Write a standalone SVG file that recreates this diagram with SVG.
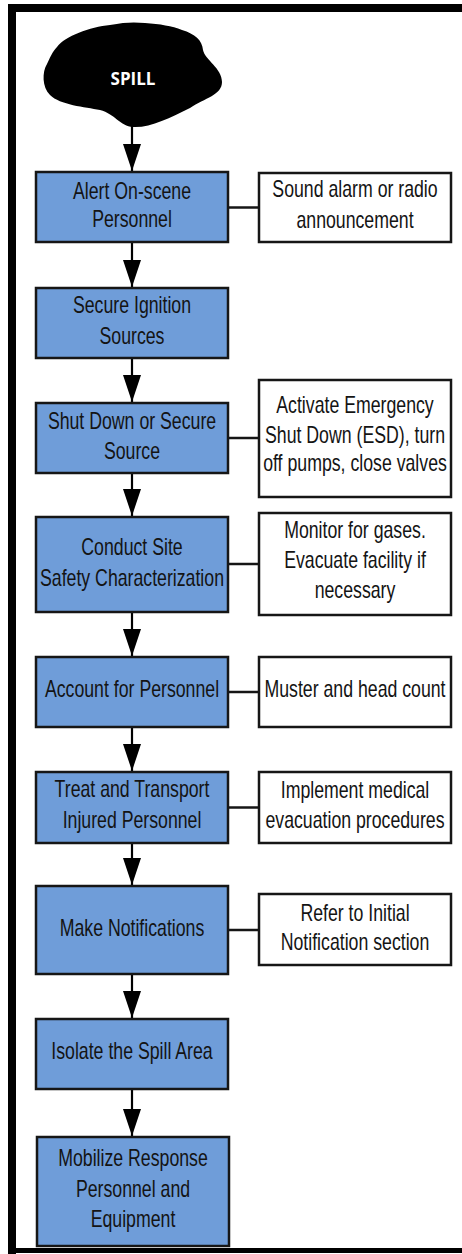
<svg xmlns="http://www.w3.org/2000/svg" width="462" height="1254" viewBox="0 0 462 1254">
  <style>
    .step { fill: #6f9dd9; stroke: #161616; stroke-width: 2.5; }
    .note { fill: #ffffff; stroke: #161616; stroke-width: 2.5; }
    .lbl { font-family: "Liberation Sans", Arial, sans-serif; font-size: 23px; fill: #141414; text-anchor: middle; }
    .flow { stroke: #000; stroke-width: 2.2; fill: none; marker-end: url(#head); }
    .tie { stroke: #161616; stroke-width: 2.5; fill: none; }
    .frame { fill: #000; }
  </style>
  <defs>
    <marker id="head" markerUnits="userSpaceOnUse" markerWidth="27" markerHeight="18" refX="27" refY="9" orient="auto">
      <path d="M0,0 L27,9 L0,18 Z" fill="#000"/>
    </marker>
  </defs>

  <rect width="462" height="1254" fill="#fff"/>

  <!-- page frame: top, left and bottom rules -->
  <g id="frame">
    <rect class="frame" x="8" y="4" width="454" height="8"/>
    <rect class="frame" x="8" y="4" width="8" height="1250"/>
    <rect class="frame" x="8" y="1248" width="454" height="5"/>
  </g>

  <!-- connectors -->
  <g id="connectors">
    <line class="flow" x1="132" y1="126" x2="132" y2="171"/>
    <line class="flow" x1="132" y1="243" x2="132" y2="287"/>
    <line class="flow" x1="132" y1="359" x2="132" y2="402"/>
    <line class="flow" x1="132" y1="474" x2="132" y2="516"/>
    <line class="flow" x1="132" y1="613" x2="132" y2="656"/>
    <line class="flow" x1="132" y1="728" x2="132" y2="771"/>
    <line class="flow" x1="132" y1="844" x2="132" y2="885"/>
    <line class="flow" x1="132" y1="975" x2="132" y2="1018"/>
    <line class="flow" x1="132" y1="1090" x2="132" y2="1136"/>

    <line class="tie" x1="229" y1="207.5" x2="259" y2="207.5"/>
    <line class="tie" x1="229" y1="438" x2="259" y2="438"/>
    <line class="tie" x1="229" y1="564" x2="259" y2="564"/>
    <line class="tie" x1="229" y1="692" x2="259" y2="692"/>
    <line class="tie" x1="229" y1="807.5" x2="259" y2="807.5"/>
    <line class="tie" x1="229" y1="930" x2="259" y2="930"/>
  </g>

  <g id="spill">
    <path d="M57,47 C65,36 90,27 110,25 C125,22 135,22 145,23 C160,24 172,26 182,30 C195,34 202,40 203,50 C205,60 222,68 222,82 C222,95 205,98 190,108 C170,118 150,128 133,127 C120,126 115,114 100,110 C85,107 60,105 50,95 C42,87 42,72 47,64 C50,58 52,52 57,47 Z" fill="#000"/>
    <text x="133" y="85" font-family="'Open Sans', 'Liberation Sans', sans-serif" font-weight="700" font-size="17" fill="#fff" text-anchor="middle">SPILL</text>
  </g>

  <g id="alert">
    <rect class="step" x="36" y="172" width="192" height="70"/>
    <text class="lbl" transform="translate(132 0) scale(0.77 1)"><tspan x="0" y="199">Alert On-scene</tspan><tspan x="0" y="227.5">Personnel</tspan></text>
  </g>
  <g id="alert-note">
    <rect class="note" x="259" y="173" width="192" height="69"/>
    <text class="lbl" transform="translate(355 0) scale(0.77 1)"><tspan x="0" y="197">Sound alarm or radio</tspan><tspan x="0" y="228">announcement</tspan></text>
  </g>

  <g id="ignition">
    <rect class="step" x="36" y="288" width="192" height="70"/>
    <text class="lbl" transform="translate(132 0) scale(0.77 1)"><tspan x="0" y="313">Secure Ignition</tspan><tspan x="0" y="344">Sources</tspan></text>
  </g>

  <g id="shutdown">
    <rect class="step" x="36" y="403" width="192" height="70"/>
    <text class="lbl" transform="translate(132 0) scale(0.77 1)"><tspan x="0" y="429">Shut Down or Secure</tspan><tspan x="0" y="459">Source</tspan></text>
  </g>
  <g id="shutdown-note">
    <rect class="note" x="259" y="380" width="192" height="117"/>
    <text class="lbl" transform="translate(355 0) scale(0.77 1)"><tspan x="0" y="413">Activate Emergency</tspan><tspan x="0" y="443">Shut Down (ESD), turn</tspan><tspan x="0" y="471">off pumps, close valves</tspan></text>
  </g>

  <g id="safety">
    <rect class="step" x="36" y="517" width="192" height="95"/>
    <text class="lbl" transform="translate(132 0) scale(0.77 1)"><tspan x="0" y="555">Conduct Site</tspan><tspan x="0" y="586">Safety Characterization</tspan></text>
  </g>
  <g id="safety-note">
    <rect class="note" x="259" y="513" width="192" height="102"/>
    <text class="lbl" transform="translate(355 0) scale(0.77 1)"><tspan x="0" y="538">Monitor for gases.</tspan><tspan x="0" y="568">Evacuate facility if</tspan><tspan x="0" y="598">necessary</tspan></text>
  </g>

  <g id="account">
    <rect class="step" x="36" y="657" width="192" height="70"/>
    <text class="lbl" transform="translate(132 0) scale(0.77 1)"><tspan x="0" y="697.5">Account for Personnel</tspan></text>
  </g>
  <g id="account-note">
    <rect class="note" x="259" y="657" width="192" height="70"/>
    <text class="lbl" transform="translate(355 0) scale(0.77 1)"><tspan x="0" y="697.5">Muster and head count</tspan></text>
  </g>

  <g id="treat">
    <rect class="step" x="36" y="772" width="192" height="71"/>
    <text class="lbl" transform="translate(132 0) scale(0.77 1)"><tspan x="0" y="797">Treat and Transport</tspan><tspan x="0" y="828">Injured Personnel</tspan></text>
  </g>
  <g id="treat-note">
    <rect class="note" x="259" y="772" width="192" height="71"/>
    <text class="lbl" transform="translate(355 0) scale(0.77 1)"><tspan x="0" y="798">Implement medical</tspan><tspan x="0" y="828">evacuation procedures</tspan></text>
  </g>

  <g id="notify">
    <rect class="step" x="36" y="886" width="192" height="88"/>
    <text class="lbl" transform="translate(132 0) scale(0.77 1)"><tspan x="0" y="936">Make Notifications</tspan></text>
  </g>
  <g id="notify-note">
    <rect class="note" x="259" y="894" width="192" height="71"/>
    <text class="lbl" transform="translate(355 0) scale(0.77 1)"><tspan x="0" y="921">Refer to Initial</tspan><tspan x="0" y="950">Notification section</tspan></text>
  </g>

  <g id="isolate">
    <rect class="step" x="36" y="1019" width="192" height="70"/>
    <text class="lbl" transform="translate(132 0) scale(0.77 1)"><tspan x="0" y="1059">Isolate the Spill Area</tspan></text>
  </g>

  <g id="mobilize">
    <rect class="step" x="37" y="1137" width="192" height="109"/>
    <text class="lbl" transform="translate(133 0) scale(0.77 1)"><tspan x="0" y="1166">Mobilize Response</tspan><tspan x="0" y="1197">Personnel and</tspan><tspan x="0" y="1227">Equipment</tspan></text>
  </g>
</svg>
